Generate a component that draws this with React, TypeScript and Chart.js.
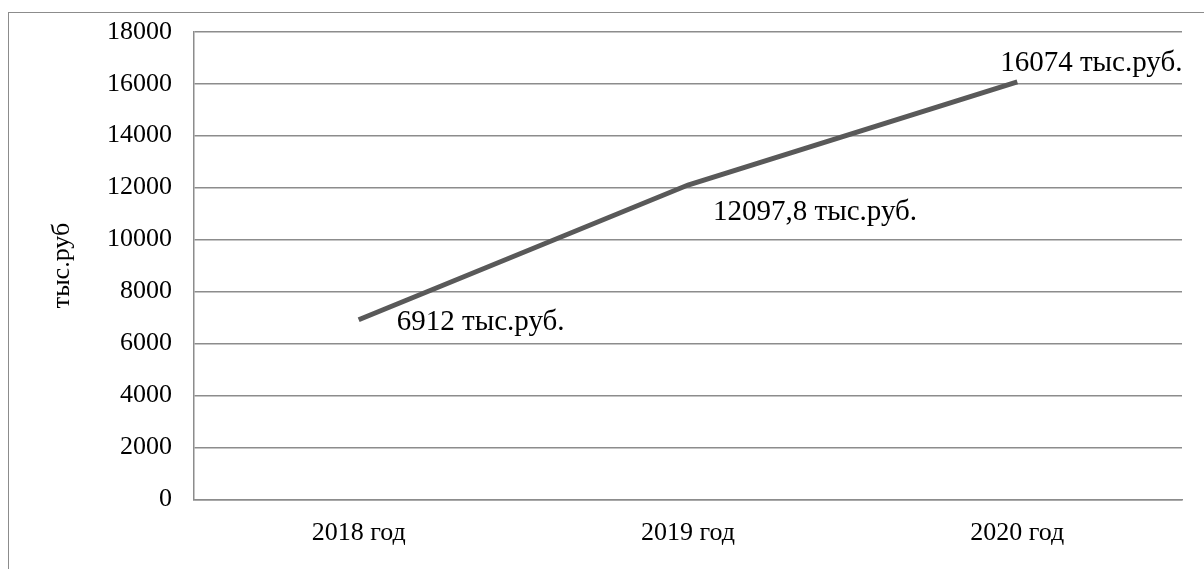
import React, { useEffect, useRef } from "react";
import { Chart, registerables } from "chart.js";

Chart.register(...registerables);

const categories: string[] = ["2018 год", "2019 год", "2020 год"];
const revenue: number[] = [6912, 12097.8, 16074];
const valueLabels: string[] = ["6912 тыс.руб.", "12097,8 тыс.руб.", "16074 тыс.руб."];
const yTitle = "тыс.руб";

const FONT = "'Liberation Serif', 'Times New Roman', serif";

// label anchor offsets relative to each point (dx, dy of text centre)
const labelOffsets: [number, number][] = [
  [122, 3],
  [127, 27],
  [74, -18],
];

const frame = {
  id: "frame",
  beforeDraw(chart: Chart) {
    const ctx = chart.ctx;
    ctx.save();
    ctx.fillStyle = "#ffffff";
    ctx.fillRect(0, 0, chart.width, chart.height);
    ctx.strokeStyle = "#8c8c8c";
    ctx.lineWidth = 1;
    ctx.strokeRect(8.5, 12.5, chart.width + 20, chart.height + 20);
    ctx.restore();
  },
};

const valueText = {
  id: "valueText",
  afterDatasetsDraw(chart: Chart) {
    const ctx = chart.ctx;
    const meta = chart.getDatasetMeta(0);
    ctx.save();
    ctx.font = `29px ${FONT}`;
    ctx.fillStyle = "#000000";
    ctx.textAlign = "center";
    ctx.textBaseline = "middle";
    meta.data.forEach((pt, i) => {
      const [dx, dy] = labelOffsets[i];
      ctx.fillText(valueLabels[i], pt.x + dx, pt.y + dy);
    });
    ctx.restore();
  },
};

export default function App() {
  const ref = useRef<HTMLCanvasElement>(null);

  useEffect(() => {
    if (!ref.current) return;
    const chart = new Chart(ref.current, {
      type: "line",
      data: {
        labels: categories,
        datasets: [
          {
            data: revenue,
            borderColor: "#595959",
            borderWidth: 5,
            pointRadius: 0,
            tension: 0,
            fill: false,
          },
        ],
      },
      options: {
        animation: false,
        responsive: false,
        layout: { padding: { left: 0, top: 20, right: 22, bottom: 0 } },
        plugins: {
          legend: { display: false },
          tooltip: { enabled: false },
        },
        scales: {
          x: {
            offset: true,
            grid: { display: false, drawTicks: false },
            border: { display: true, color: "#8c8c8c", width: 1.5 },
            ticks: {
              color: "#000000",
              font: { family: FONT, size: 26 },
              padding: 18,
              maxRotation: 0,
            },
            afterFit(scale: any) {
              scale.height = 69.7;
            },
          },
          y: {
            min: 0,
            max: 18000,
            grid: { color: "#8c8c8c", lineWidth: 1.5, drawTicks: false },
            border: { display: true, color: "#8c8c8c", width: 1.5 },
            ticks: {
              stepSize: 2000,
              color: "#000000",
              font: { family: FONT, size: 26, lineHeight: 0.75 },
              padding: 22,
              callback: (v: any) => String(v),
            },
            title: {
              display: true,
              text: yTitle,
              color: "#000000",
              font: { family: FONT, size: 26 },
              padding: { top: 47, bottom: 0 },
            },
            afterFit(scale: any) {
              scale.width = 194;
            },
          },
        },
      },
      plugins: [frame, valueText],
    });
    return () => chart.destroy();
  }, []);

  return (
    <canvas
      ref={ref}
      width={1204}
      height={569}
      style={{ position: "fixed", left: 0, top: 0, width: 1204, height: 569, display: "block" }}
    />
  );
}
